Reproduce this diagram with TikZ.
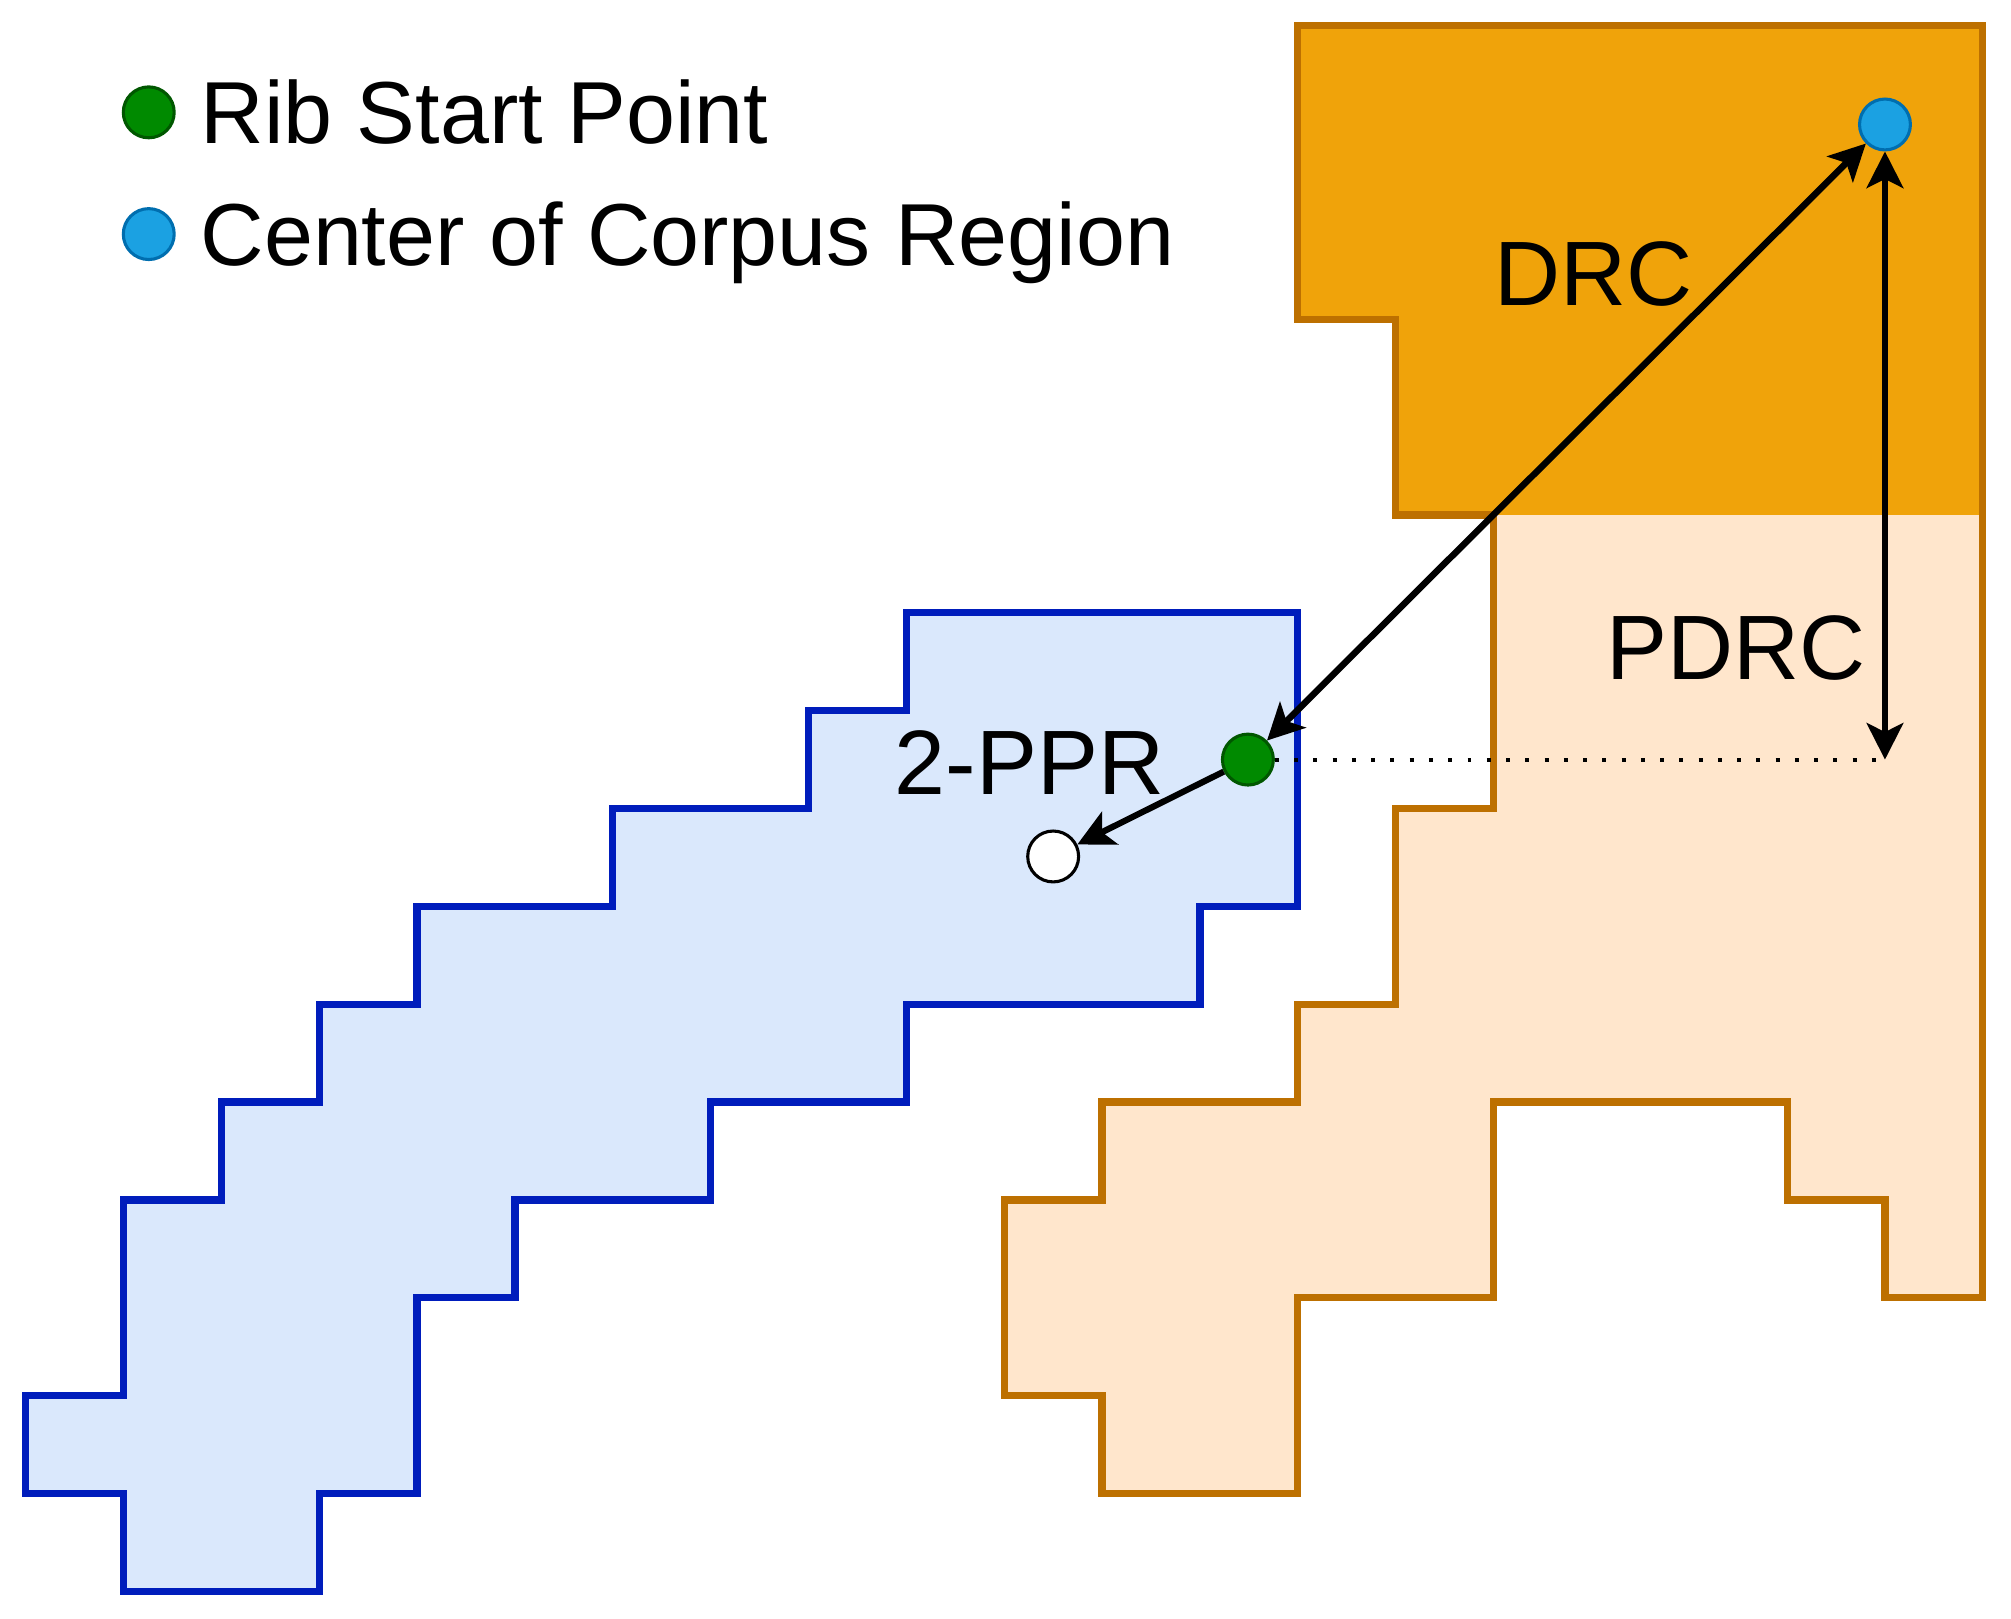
\documentclass[tikz,border=0pt]{standalone}
\usepackage{fontspec}
\setmainfont{Liberation Sans}
\usetikzlibrary{arrows.meta}

\definecolor{drcfill}{HTML}{F0A30A}
\definecolor{pdrcfill}{HTML}{FFE6CC}
\definecolor{regionline}{HTML}{BD7000}
\definecolor{pprfill}{HTML}{DAE8FC}
\definecolor{pprline}{HTML}{001DBC}
\definecolor{ribgreen}{HTML}{008A00}
\definecolor{ribgreenline}{HTML}{005700}
\definecolor{centerblue}{HTML}{1BA1E2}
\definecolor{centerblueline}{HTML}{006EAF}

\begin{document}
\begin{tikzpicture}[x=1cm,y=-1cm,
    font=\fontsize{25.6}{30}\selectfont,
    dot/.style={circle,minimum size=0.52cm,inner sep=0pt,line width=0.9pt},
    ribdot/.style={dot,fill=ribgreen,draw=ribgreenline},
    centerdot/.style={dot,fill=centerblue,draw=centerblueline},
    label/.style={inner sep=0pt},
    region label/.style={label,anchor=base,font=\fontsize{26.6}{30}\selectfont},
    measure/.style={line width=1.9pt,{Stealth[length=10.6pt,width=10.6pt,inset=2.6pt]}-{Stealth[length=10.6pt,width=10.6pt,inset=2.6pt]}},
    step arrow/.style={line width=1.8pt,-{Stealth[length=10.6pt,width=10.6pt,inset=2.6pt]}}]
    \useasboundingbox (-0.262,-0.262) rectangle (20.288,16.278);

    % regions
    \fill [pdrcfill] (15,5) -- (20,5) -- (20,13) -- (19,13) -- (19,12) -- (18,12)
        -- (18,11) -- (15,11) -- (15,13) -- (13,13) -- (13,15) -- (11,15) -- (11,14)
        -- (10,14) -- (10,12) -- (11,12) -- (11,11) -- (13,11) -- (13,10) -- (14,10)
        -- (14,8) -- (15,8) -- cycle;
    \fill [drcfill] (13,0) -- (20,0) -- (20,5) -- (14,5) -- (14,3) -- (13,3) -- cycle;
    \draw [regionline,line width=2.1pt] (13,0) -- (20,0) -- (20,13) -- (19,13)
        -- (19,12) -- (18,12) -- (18,11) -- (15,11) -- (15,13) -- (13,13) -- (13,15)
        -- (11,15) -- (11,14) -- (10,14) -- (10,12) -- (11,12) -- (11,11) -- (13,11)
        -- (13,10) -- (14,10) -- (14,8) -- (15,8) -- (15,5) -- (14,5) -- (14,3)
        -- (13,3) -- cycle;
    \draw [pprline,fill=pprfill,line width=2.1pt] (9,6) -- (13,6) -- (13,9) -- (12,9)
        -- (12,10) -- (9,10) -- (9,11) -- (7,11) -- (7,12) -- (5,12) -- (5,13)
        -- (4,13) -- (4,15) -- (3,15) -- (3,16) -- (1,16) -- (1,15) -- (0,15)
        -- (0,14) -- (1,14) -- (1,12) -- (2,12) -- (2,11) -- (3,11) -- (3,10)
        -- (4,10) -- (4,9) -- (6,9) -- (6,8) -- (8,8) -- (8,7) -- (9,7) -- cycle;

    % labels
    \node [region label] (drc) at (16.02,2.86) {DRC};
    \node [region label] (pdrc) at (17.48,6.68) {PDRC};
    \node [region label] (ppr) at (10.26,7.86) {2-PPR};

    % legend
    \node [ribdot] (legendrib) at (1.258,0.886) {};
    \node [label,anchor=base west] (legendribtext) at (1.78,1.206) {Rib Start Point};
    \node [centerdot] (legendcenter) at (1.258,2.13) {};
    \node [label,anchor=base west] (legendcentertext) at (1.78,2.45) {Center of Corpus Region};

    % points
    \node [centerdot] (center) at (19,1.01) {};
    \node [ribdot] (ribstart) at (12.49,7.5) {};
    \node [dot,fill=white,draw=black] (ribnext) at (10.5,8.49) {};
    \coordinate (pdrcfoot) at (19,7.5);

    \draw [line width=1.15pt,dash pattern=on 1.15pt off 4.45pt] (ribstart) -- (pdrcfoot);
    \draw [measure] (ribstart) -- (center);
    \draw [measure] (center) -- (pdrcfoot);
    \draw [step arrow] (ribstart) -- (ribnext);
\end{tikzpicture}
\end{document}
